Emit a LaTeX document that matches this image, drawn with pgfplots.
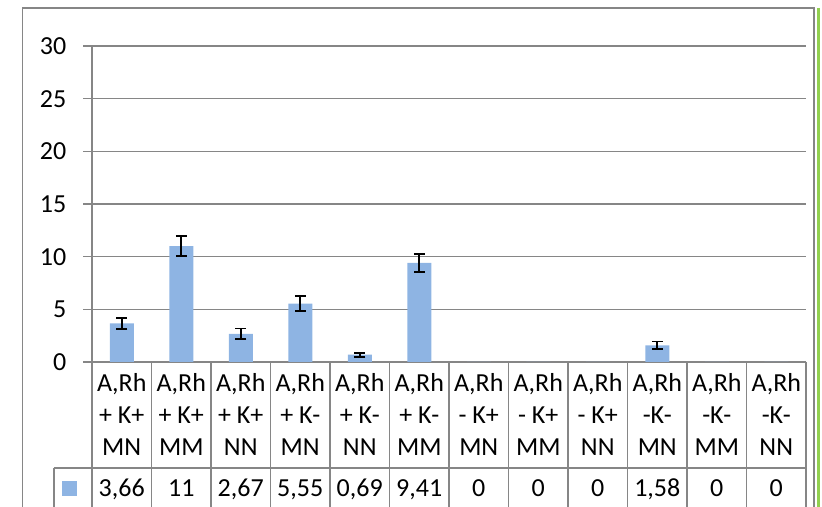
\documentclass[border=0pt]{standalone}
\usepackage{pgfplots}
\pgfplotsset{compat=1.18}
\usepackage{pgfplotstable}
\usepackage{fontspec}
\setmainfont{Carlito}
\definecolor{barfill}{RGB}{142,180,227}
\definecolor{gridgray}{RGB}{134,134,134}
\definecolor{selgreen}{RGB}{146,208,80}

\pgfplotstableread{
x y err
0 3.66 0.50
1 11 0.95
2 2.67 0.50
3 5.55 0.70
4 0.69 0.19
5 9.41 0.85
6 0 0
7 0 0
8 0 0
9 1.58 0.35
10 0 0
11 0 0
}\datatable

\pgfplotstableread{
x y err
0 3.66 0.50
1 11 0.95
2 2.67 0.50
3 5.55 0.70
4 0.69 0.19
5 9.41 0.85
9 1.58 0.35
}\errtable

\begin{document}
\begin{tikzpicture}[x=1pt,y=1pt]
\useasboundingbox (0,0) rectangle (411,253.5);
\draw[gridgray, line width=0.75pt] (11.35,-5) -- (11.35,249.5) -- (407,249.5) -- (407,-5);
\draw[selgreen, line width=1.5pt] (409.25,249.5) -- (409.25,-5);
\begin{axis}[
  at={(46pt,72.5pt)}, anchor=south west,
  scale only axis, width=357pt, height=158pt,
  xmin=-0.5, xmax=11.5, ymin=0, ymax=30,
  clip=false,
  axis lines=left,
  axis line style={draw=gridgray, line width=0.75pt, -},
  ytick={0,5,...,30},
  ymajorgrids, grid style={gridgray, line width=0.75pt},
  tick align=outside,
  major tick length=4.5pt,
  ytick style={gridgray, line width=0.75pt},
  xtick={0,...,11},
  xtick style={draw=none},
  xticklabels={{A,Rh\\+ K+\\MN},{A,Rh\\+ K+\\MM},{A,Rh\\+ K+\\NN},{A,Rh\\+ K-\\MN},{A,Rh\\+ K-\\NN},{A,Rh\\+ K-\\MM},{A,Rh\\- K+\\MN},{A,Rh\\- K+\\MM},{A,Rh\\- K+\\NN},{A,Rh\\-K-\\MN},{A,Rh\\-K-\\MM},{A,Rh\\-K-\\NN}},
  xticklabel style={align=center, anchor=center, yshift=-21.8pt, inner sep=0pt, font=\fontsize{13}{16}\selectfont},
  yticklabel style={anchor=east, inner sep=0pt, xshift=-8.15pt, font=\fontsize{13}{16}\selectfont},
  /pgf/number format/assume math mode=true,
  legend style={at={(axis description cs:-0.0303,-0.3997)}, anchor=center, draw=none, fill=none, inner sep=0pt, outer sep=0pt, nodes={inner sep=0pt, outer sep=0pt}, /tikz/every even column/.style={column sep=0pt}},
]
\addplot[ybar, bar width=12pt, bar shift=0pt, fill=barfill, draw=none,
  legend image code/.code={\fill[barfill] (-3.65pt,-3.65pt) rectangle (3.65pt,3.65pt);}]
  table[x=x, y=y] {\datatable};
\addlegendentry{}
\addplot[ybar, bar width=12pt, bar shift=0pt, draw=none, fill=none, forget plot,
  error bars/.cd, y dir=both, y explicit,
  error bar style={black, line width=0.8pt},
  error mark options={rotate=90, mark size=2.75pt, black, line width=0.8pt}]
  table[x=x, y=y, y error=err] {\errtable};
\addplot[draw=none, mark=none, forget plot, point meta=explicit,
  nodes near coords={\pgfmathprintnumber[use comma]{\pgfplotspointmeta}},
  nodes near coords style={anchor=base, inner sep=0pt, black, font=\fontsize{13}{16}\selectfont}]
  table[x=x, y expr=-12.79, meta=y] {\datatable};
% data table grid
\draw[gridgray, line width=0.75pt] (axis cs:-1.139,-10.04) -- (axis cs:11.5,-10.04);
\draw[gridgray, line width=0.75pt] (axis cs:-1.139,-10.04) -- (axis cs:-1.139,-15);
\draw[gridgray, line width=0.75pt] (axis cs:-0.5,0) -- (axis cs:-0.5,-15);
\draw[gridgray, line width=0.75pt] (axis cs:0.5,0) -- (axis cs:0.5,-15);
\draw[gridgray, line width=0.75pt] (axis cs:1.5,0) -- (axis cs:1.5,-15);
\draw[gridgray, line width=0.75pt] (axis cs:2.5,0) -- (axis cs:2.5,-15);
\draw[gridgray, line width=0.75pt] (axis cs:3.5,0) -- (axis cs:3.5,-15);
\draw[gridgray, line width=0.75pt] (axis cs:4.5,0) -- (axis cs:4.5,-15);
\draw[gridgray, line width=0.75pt] (axis cs:5.5,0) -- (axis cs:5.5,-15);
\draw[gridgray, line width=0.75pt] (axis cs:6.5,0) -- (axis cs:6.5,-15);
\draw[gridgray, line width=0.75pt] (axis cs:7.5,0) -- (axis cs:7.5,-15);
\draw[gridgray, line width=0.75pt] (axis cs:8.5,0) -- (axis cs:8.5,-15);
\draw[gridgray, line width=0.75pt] (axis cs:9.5,0) -- (axis cs:9.5,-15);
\draw[gridgray, line width=0.75pt] (axis cs:10.5,0) -- (axis cs:10.5,-15);
\draw[gridgray, line width=0.75pt] (axis cs:11.5,0) -- (axis cs:11.5,-15);
\end{axis}
\end{tikzpicture}
\end{document}
